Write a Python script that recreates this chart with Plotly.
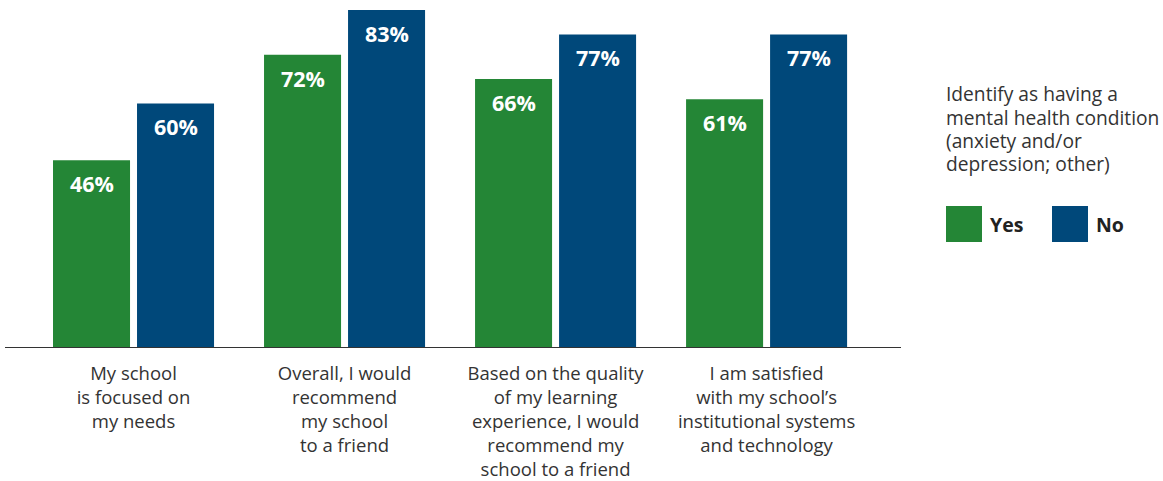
import plotly.graph_objects as go

categories = [
    "My school<br>is focused on<br>my needs",
    "Overall, I would<br>recommend<br>my school<br>to a friend",
    "Based on the quality<br>of my learning<br>experience, I would<br>recommend my<br>school to a friend",
    "I am satisfied<br>with my school’s<br>institutional systems<br>and technology",
]
yes_values = [46, 72, 66, 61]
no_values = [60, 83, 77, 77]
series_names = ["Yes", "No"]
colors = ["#248636", "#00487A"]
legend_title_lines = ["Identify as having a", "mental health condition", "(anxiety and/or", "depression; other)"]

W, H = 1163, 481
ML, MR, MT, MB = 5, 262, 0, 134
PW, PH = W - ML - MR, H - MT - MB

x_idx = list(range(len(categories)))
bar_w = 0.365
offsets = [-0.3815, 0.0166]

fig = go.Figure()
for name, vals, col, off in zip(series_names, [yes_values, no_values], colors, offsets):
    fig.add_trace(go.Bar(
        x=x_idx, y=vals, name=name, marker=dict(color=col, line=dict(width=0)),
        width=bar_w, offset=off, showlegend=False, hoverinfo="skip",
    ))
    for xi, v in zip(x_idx, vals):
        fig.add_annotation(
            x=xi + off + bar_w / 2, y=v, xref="x", yref="y",
            text=f"<b>{v}%</b>", showarrow=False, yanchor="top", yshift=-7,
            font=dict(family="Open Sans", size=21.5, color="white"),
        )

def px_x(px):
    return (px - ML) / PW

def px_y(py):
    return (H - MB - py) / PH

for i, line in enumerate(legend_title_lines):
    fig.add_annotation(
        x=px_x(944), y=px_y(94 + 23 * i), xref="paper", yref="paper",
        xanchor="left", yanchor="middle",
        text=line, showarrow=False, align="left",
        font=dict(family="Open Sans", size=19.2, color="#333333"),
    )
leg_x = [946, 1052]
for name, col, lx in zip(series_names, colors, leg_x):
    fig.add_shape(type="rect", xref="paper", yref="paper",
                  x0=px_x(lx), x1=px_x(lx + 36), y0=px_y(242), y1=px_y(206),
                  fillcolor=col, line=dict(width=0))
    fig.add_annotation(
        x=px_x(lx + 42), y=px_y(224), xref="paper", yref="paper", xanchor="left", yanchor="middle",
        text=f"<b>{name}</b>", showarrow=False,
        font=dict(family="Open Sans", size=19.5, color="#222222"),
    )

fig.update_layout(
    width=W, height=H, margin=dict(l=ML, r=MR, t=MT, b=MB, autoexpand=False),
    paper_bgcolor="white", plot_bgcolor="white", barmode="overlay",
    xaxis=dict(
        range=[-0.609, 3.637], tickmode="array", tickvals=x_idx, ticktext=categories,
        showgrid=False, zeroline=False, showline=True, linecolor="#333333", linewidth=1,
        ticks="", tickfont=dict(family="Open Sans", size=18.5, color="#333333"),
        ticklabelstandoff=10, automargin=False,
    ),
    yaxis=dict(range=[0, 85.47], visible=False, showgrid=False, zeroline=False, automargin=False),
)

fig.write_html("out.html")
